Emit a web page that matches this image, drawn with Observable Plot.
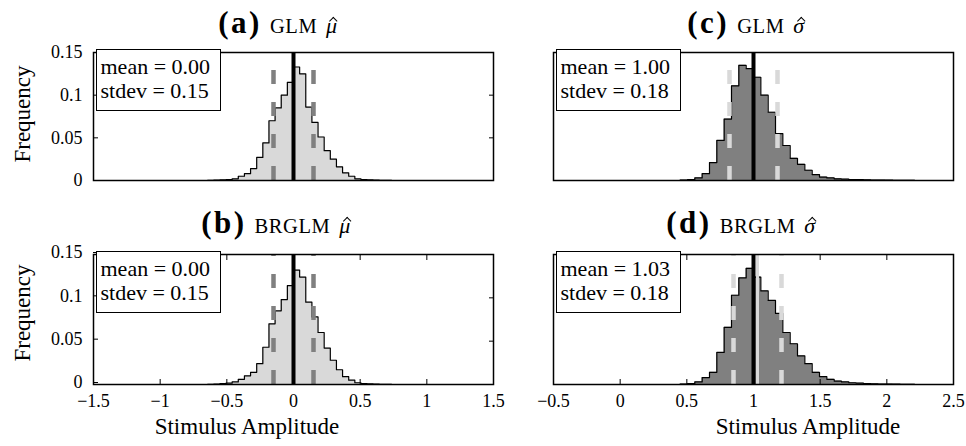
<!DOCTYPE html>
<html><head><meta charset="utf-8">
<script src="https://cdn.jsdelivr.net/npm/d3@7"></script>
<script src="https://cdn.jsdelivr.net/npm/@observablehq/plot@0.6"></script>
<style>
body{margin:0;background:#fff;}
#wrap{position:relative;width:966px;height:446px;font-family:"Liberation Serif","Times New Roman",serif;color:#000;overflow:hidden;background:#fff;}
.pl{position:absolute;}
.pl svg text{font-family:"Liberation Serif","Times New Roman",serif;}
.title{position:absolute;white-space:nowrap;transform:translateX(-50%);line-height:30px;font-size:20.5px;letter-spacing:0.6px;}
.title b{font-size:31px;letter-spacing:2.5px;margin-right:8px;}
.hat{position:relative;display:inline-block;font-size:22px;line-height:30px;margin-left:3px;}
.hat::after{content:"";position:absolute;left:4.5px;top:7px;width:5px;height:5px;border-left:1.2px solid #000;border-top:1.2px solid #000;transform:rotate(45deg);}
.xlab{position:absolute;white-space:nowrap;transform:translateX(-50%);font-size:23px;line-height:23px;}
.ylab{position:absolute;white-space:nowrap;transform:translate(-50%,-50%) rotate(-90deg);font-size:23px;line-height:23px;}
.box{position:absolute;box-sizing:border-box;width:125px;height:62px;border:1.2px solid #000;background:#fff;font-size:22px;line-height:23.5px;padding:5px 0 0 4px;white-space:nowrap;}
</style></head>
<body><div id="wrap"></div>
<script>
// ---- data ----
const yDomain = [0, 0.15];
const yTicks = [0, 0.05, 0.1, 0.15];
const yTickLabels = ["0", "0.05", "0.1", "0.15"];
const muXDomain = [-1.5, 1.5];
const muXTicks = [-1.5, -1, -0.5, 0, 0.5, 1, 1.5];
const muXTickLabels = ["\u22121.5", "\u22121", "\u22120.5", "0", "0.5", "1", "1.5"];
const sigmaXDomain = [-0.5, 2.5];
const sigmaXTicks = [-0.5, 0, 0.5, 1, 1.5, 2, 2.5];
const sigmaXTickLabels = ["\u22120.5", "0", "0.5", "1", "1.5", "2", "2.5"];

const muEdges = [-0.644,-0.598,-0.552,-0.506,-0.46,-0.414,-0.368,-0.322,-0.276,-0.23,-0.184,-0.138,-0.092,-0.046,0,0.046,0.092,0.138,0.184,0.23,0.276,0.322,0.368,0.414,0.46,0.506,0.552,0.598,0.644,0.69,0.736];
const glmMuFreq = [0.0003,0.0005,0.0008,0.001,0.002,0.005,0.008,0.014,0.027,0.044,0.070,0.085,0.100,0.115,
                   0.133,0.125,0.086,0.068,0.051,0.035,0.025,0.016,0.009,0.005,0.002,0.001,0.0008,0.0005,0.0003,0.0002];
const brglmMuFreq = [0.0003,0.0005,0.001,0.0015,0.003,0.006,0.010,0.014,0.024,0.043,0.070,0.085,0.098,0.114,
                     0.132,0.124,0.095,0.078,0.060,0.042,0.028,0.017,0.009,0.005,0.002,0.001,0.0008,0.0005,0.0003,0.0002];
const sigmaEdges = [0.45,0.505,0.56,0.615,0.67,0.725,0.78,0.835,0.89,0.945,1.0,1.055,1.11,1.165,1.22,1.275,1.33,1.385,1.44,1.495,1.55,1.605,1.66,1.715,1.77,1.825,1.88,1.935,1.99,2.045,2.1,2.155,2.21];
const glmSigmaFreq = [0.0005,0.001,0.003,0.008,0.021,0.047,0.072,0.111,0.135,0.131,
                      0.121,0.100,0.080,0.055,0.041,0.026,0.019,0.012,0.007,0.004,0.003,0.002,0.0015,0.001,0.001,0.0008,0.0006,0.0005,0.0004,0.0003,0.0003,0.0002];
const brglmSigmaFreq = [0.0005,0.001,0.003,0.008,0.014,0.037,0.066,0.103,0.123,0.134,
                        0.124,0.108,0.097,0.082,0.060,0.047,0.033,0.024,0.014,0.009,0.006,0.004,0.003,0.002,0.0015,0.001,0.0008,0.0006,0.0005,0.0004,0.0003,0.0002];

const panelLetters = ["(a)", "(b)", "(c)", "(d)"];
const panelMethods = ["GLM", "BRGLM", "GLM", "BRGLM"];
const panelSymbols = ["\u03bc", "\u03bc", "\u03c3", "\u03c3"];
const panelMeans = [0.00, 0.00, 1.00, 1.03];
const panelStdevs = [0.15, 0.15, 0.18, 0.18];
const panelTruth = [0, 0, 1, 1];
const xLabel = "Stimulus Amplitude";
const yLabel = "Frequency";

// ---- layout ----
const wrap = document.getElementById("wrap");
const layout = [
  {edges: muEdges, freq: glmMuFreq, col: 0, row: 0},
  {edges: muEdges, freq: brglmMuFreq, col: 0, row: 1},
  {edges: sigmaEdges, freq: glmSigmaFreq, col: 1, row: 0},
  {edges: sigmaEdges, freq: brglmSigmaFreq, col: 1, row: 1}
];
const cols = [
  {left: 0, width: 500, ml: 93, mr: 7, fill: "#d9d9d9", dash: "#808080", meanC: "#808080", dom: muXDomain, ticks: muXTicks, labels: muXTickLabels},
  {left: 500, width: 466, ml: 53, mr: 13, fill: "#808080", dash: "#d9d9d9", meanC: "#d9d9d9", dom: sigmaXDomain, ticks: sigmaXTicks, labels: sigmaXTickLabels}
];
const rows = [
  {top: 40, height: 160, mt: 12, mb: 20},
  {top: 240, height: 170, mt: 14, mb: 26}
];
const serif = '"Liberation Serif", "Times New Roman", serif';

layout.forEach((p, i) => {
  const c = cols[p.col], r = rows[p.row];
  const pts = p.freq.map((f, j) => ({x: p.edges[j], y: f}));
  pts.push({x: p.edges[p.freq.length], y: p.freq[p.freq.length - 1]});
  const m = panelMeans[i], s = panelStdevs[i];
  const marks = [
    Plot.areaY(pts, {x: "x", y: "y", curve: "step-after", fill: c.fill}),
    Plot.lineY(pts, {x: "x", y: "y", curve: "step-after", stroke: "#000", strokeWidth: 1.2}),
    Plot.ruleX([m - s, m + s], {y1: yDomain[0], y2: yDomain[1], stroke: c.dash, strokeWidth: 4.5, strokeDasharray: "14,18"}),
    Plot.ruleX([m], {y1: yDomain[0], y2: yDomain[1], stroke: c.meanC, strokeWidth: 3}),
    Plot.ruleX([panelTruth[i]], {y1: yDomain[0], y2: yDomain[1], stroke: "#000", strokeWidth: 4}),
    Plot.frame({stroke: "#000", strokeWidth: 1.5})
  ];
  if (p.col === 0) {
    marks.push(Plot.axisY({anchor: "left", ticks: yTicks, tickFormat: (d, k) => yTickLabels[k], tickSize: -5, tickPadding: 16, dy: p.row === 1 ? -2 : 0, label: null}));
    marks.push(Plot.axisY({anchor: "right", ticks: yTicks, tickFormat: () => "", tickSize: -5, label: null}));
  }
  if (p.row === 1) {
    marks.push(Plot.axisX({anchor: "bottom", ticks: c.ticks, tickFormat: (d, k) => c.labels[k], tickSize: -5, tickPadding: 15, label: null}));
    marks.push(Plot.axisX({anchor: "top", ticks: c.ticks, tickFormat: () => "", tickSize: -5, label: null}));
  }
  const svg = Plot.plot({
    width: c.width, height: r.height,
    marginLeft: c.ml, marginRight: c.mr, marginTop: r.mt, marginBottom: r.mb,
    x: {domain: c.dom, axis: p.row === 1 ? undefined : null},
    y: {domain: yDomain, axis: p.col === 0 ? undefined : null},
    style: {fontFamily: serif, fontSize: "18px", color: "#000", background: "transparent", overflow: "visible"},
    marks
  });
  const div = document.createElement("div");
  div.className = "pl";
  div.style.left = c.left + "px"; div.style.top = r.top + "px";
  div.style.width = c.width + "px"; div.style.height = r.height + "px";
  div.appendChild(svg);
  wrap.appendChild(div);

  // stats box
  const box = document.createElement("div");
  box.className = "box";
  box.style.left = (c.left + c.ml + 2.5) + "px";
  box.style.top = (r.top + r.mt - 3) + "px";
  box.innerHTML = "mean = " + m.toFixed(2) + "<br>stdev = " + s.toFixed(2);
  wrap.appendChild(box);
});

// titles
const titleX = [278, 276, 746, 741];
const titleBase = [33, 233, 33, 233];
[0, 1, 2, 3].forEach(i => {
  const t = document.createElement("div");
  t.className = "title";
  t.style.left = titleX[i] + "px";
  t.style.top = (titleBase[i] - 25.5) + "px";
  t.innerHTML = "<b>" + panelLetters[i] + "</b>" + panelMethods[i] +
    " <span class='hat'><i>" + panelSymbols[i] + "</i></span>";
  wrap.appendChild(t);
});
// x labels
[247, 808].forEach(x => {
  const t = document.createElement("div");
  t.className = "xlab";
  t.style.left = x + "px"; t.style.top = (434 - 19.3) + "px";
  t.textContent = xLabel;
  wrap.appendChild(t);
});
// y labels
[114, 313].forEach(y => {
  const t = document.createElement("div");
  t.className = "ylab";
  t.style.left = "22px"; t.style.top = y + "px";
  t.textContent = yLabel;
  wrap.appendChild(t);
});
</script></body></html>
